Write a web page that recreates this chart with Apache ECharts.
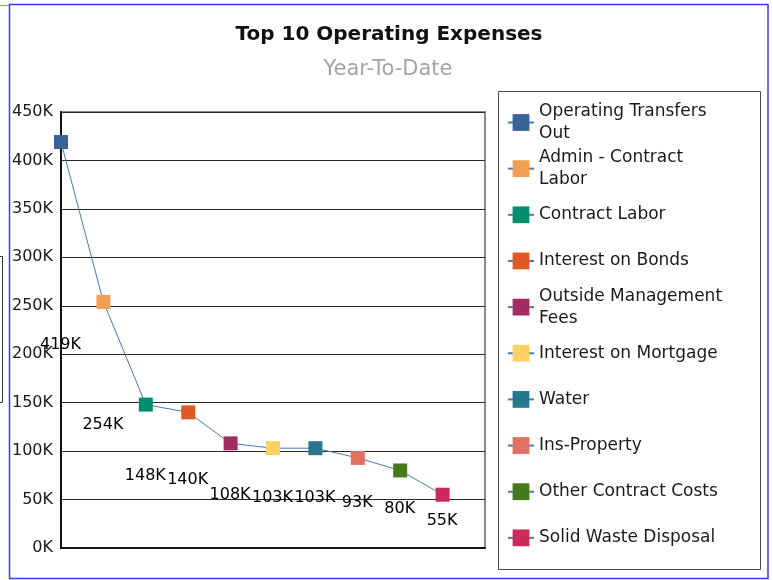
<!DOCTYPE html>
<html>
<head>
<meta charset="utf-8">
<script src="https://cdn.jsdelivr.net/npm/echarts@6/dist/echarts.min.js"></script>
<style>
  html, body { margin: 0; padding: 0; background: #ffffff; }
  #main { width: 773px; height: 580px; }
</style>
</head>
<body>
<div id="main"></div>
<script>
// Expense categories, ranked by year-to-date amount
const categories = [
  'Operating Transfers Out',
  'Admin - Contract Labor',
  'Contract Labor',
  'Interest on Bonds',
  'Outside Management Fees',
  'Interest on Mortgage',
  'Water',
  'Ins-Property',
  'Other Contract Costs',
  'Solid Waste Disposal'
];

// Year-to-date amounts
const values = [419000, 254000, 148000, 140000, 108000, 103000, 103000, 93000, 80000, 55000];

// Marker colour for each category
const markerColors = [
  '#386497', '#f0a050', '#00906e', '#e05a22', '#a12d62',
  '#ffd162', '#27778e', '#e07062', '#45791a', '#cc2a5c'
];

// Value axis ticks
const yMin = 0;
const yMax = 450000;
const yStep = 50000;

const FONT = 'DejaVu Sans';
const LINE_COLOR = '#4a7ab4';

const fmtK = v => Math.round(v / 1000) + 'K';

// Greedy word wrap for legend entries
function wrapWords(text, maxChars) {
  const words = text.split(' ');
  const lines = [];
  let cur = '';
  words.forEach(w => {
    const next = cur ? cur + ' ' + w : w;
    if (next.length > maxChars && cur) { lines.push(cur); cur = w; }
    else { cur = next; }
  });
  if (cur) lines.push(cur);
  return lines.join('\n');
}

const chart = echarts.init(document.getElementById('main'), null, { renderer: 'canvas' });

// One legend block per category, stacked down the right-hand panel
const LEGEND_FIRST_CENTER = 122.5;
const LEGEND_STEP = 46.15;
const LEGEND_LINE_H = 22;
const legends = categories.map((name, i) => {
  const text = wrapWords(name, 20);
  const lines = text.split('\n').length;
  const h = Math.max(21, lines * LEGEND_LINE_H);
  return {
    data: [name],
    orient: 'vertical',
    left: 507,
    top: LEGEND_FIRST_CENTER + i * LEGEND_STEP - h / 2,
    padding: 0,
    itemWidth: 26,
    itemHeight: 21,
    itemGap: 0,
    selectedMode: false,
    formatter: () => text,
    textStyle: { fontFamily: FONT, fontSize: 17, lineHeight: LEGEND_LINE_H, color: '#1a1a1a' }
  };
});

// Connecting line through all points
const trendSeries = {
  name: 'trend',
  type: 'line',
  data: values.map((v, i) => [i, v]),
  symbol: 'none',
  lineStyle: { color: LINE_COLOR, width: 1 },
  silent: true,
  z: 2
};

// One square marker per category (also feeds the legend)
const pointSeries = categories.map((name, i) => ({
  name: name,
  type: 'line',
  data: [[i, values[i]]],
  symbol: 'rect',
  symbolSize: 14,
  showSymbol: true,
  itemStyle: { color: markerColors[i] },
  lineStyle: { color: LINE_COLOR, width: 1 },
  z: 3
}));

// Value labels, set at half height below each point
const labelSeries = {
  name: 'labels',
  type: 'scatter',
  data: values.map((v, i) => [i, v / 2]),
  symbolSize: 1,
  itemStyle: { color: '#ffffff', opacity: 0 },
  silent: true,
  clip: false,
  z: 4,
  label: {
    show: true,
    position: [0, 0],
    align: 'center',
    verticalAlign: 'middle',
    formatter: p => fmtK(values[p.dataIndex]),
    fontFamily: FONT,
    fontSize: 16,
    color: '#000000',
    opacity: 1,
    textBorderWidth: 0
  }
};

const option = {
  backgroundColor: '#ffffff',
  animation: false,
  title: [
    {
      text: 'Top 10 Operating Expenses',
      left: 389, top: 25, textAlign: 'center', padding: 0,
      textStyle: { fontFamily: FONT, fontSize: 20, fontWeight: 'bold', color: '#111111' }
    },
    {
      text: 'Year-To-Date',
      left: 388, top: 59, textAlign: 'center', padding: 0,
      textStyle: { fontFamily: FONT, fontSize: 21, fontWeight: 'normal', color: '#a3a3a3' }
    }
  ],
  legend: legends,
  grid: {
    left: 61, right: 288, top: 112, bottom: 32,
    show: true, borderColor: '#8a8a8a', borderWidth: 2, backgroundColor: 'transparent'
  },
  xAxis: {
    type: 'value', min: 0, max: 10,
    axisLine: { show: true, onZero: false, lineStyle: { color: '#111111', width: 2 } },
    axisTick: { show: false },
    axisLabel: { show: false },
    splitLine: { show: false }
  },
  yAxis: {
    type: 'value', min: yMin, max: yMax, interval: yStep,
    axisLine: { show: true, lineStyle: { color: '#111111', width: 2 } },
    axisTick: { show: false },
    axisLabel: {
      formatter: v => fmtK(v), margin: 8,
      fontFamily: FONT, fontSize: 16, color: '#1a1a1a'
    },
    splitLine: { show: true, lineStyle: { color: '#2a2a2a', width: 1 } }
  },
  graphic: [
    // outer frame
    { type: 'rect', shape: { x: 9.5, y: 4.5, width: 758.5, height: 574 },
      style: { fill: 'none', stroke: '#3a3aff', lineWidth: 1.5 }, silent: true, z: -1 },
    { type: 'line', shape: { x1: 0, y1: 5.5, x2: 9, y2: 5.5 },
      style: { stroke: '#8a8aff', lineWidth: 1 }, silent: true },
    // edge of neighbouring panel on the left
    { type: 'rect', shape: { x: -20, y: 256.5, width: 22.5, height: 146 },
      style: { fill: 'none', stroke: '#333333', lineWidth: 1 }, silent: true },
    // legend panel
    { type: 'rect', shape: { x: 498.5, y: 91.5, width: 262, height: 478 },
      style: { fill: 'none', stroke: '#4a4a4a', lineWidth: 1 }, silent: true, z: -1 }
  ],
  series: [trendSeries].concat(pointSeries, [labelSeries])
};

chart.setOption(option);
</script>
</body>
</html>
